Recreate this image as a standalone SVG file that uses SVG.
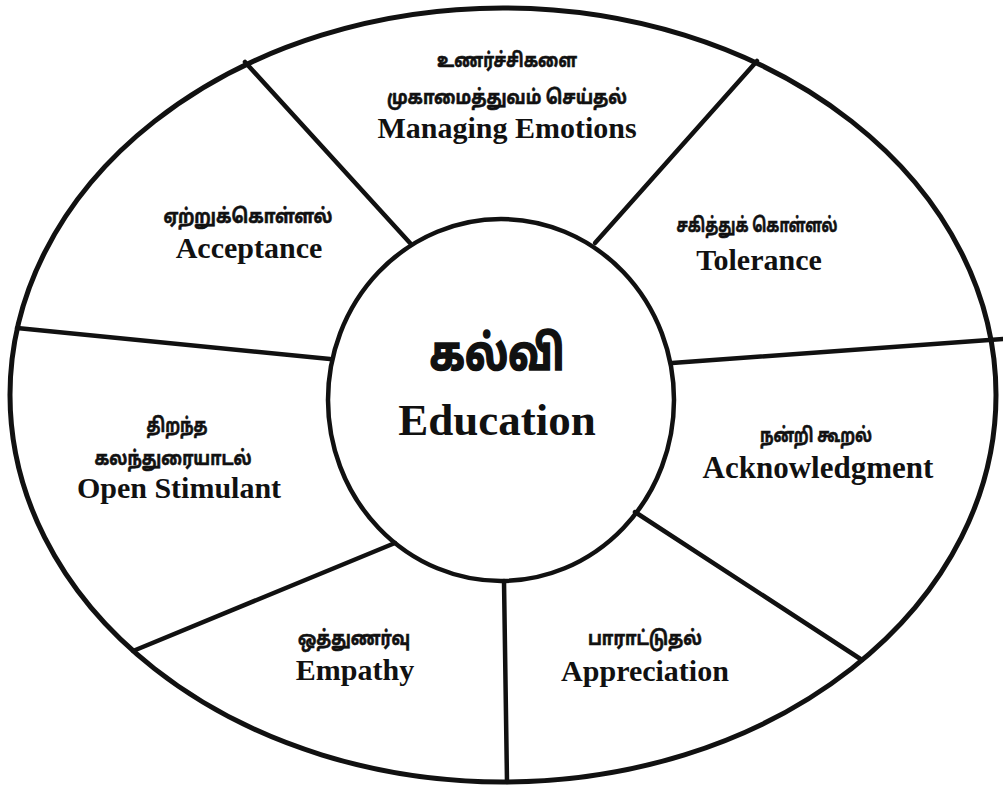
<svg xmlns="http://www.w3.org/2000/svg" width="1003" height="788" viewBox="0 0 1003 788">
<style>
.ln{stroke:#111;stroke-width:4.5;fill:none;stroke-linecap:round}
.ta{font-family:"Noto Sans Tamil","Lohit Tamil","Noto Serif Tamil","Latha",sans-serif;font-weight:bold;font-size:20px;fill:#111;stroke:#111;stroke-width:0.6;text-anchor:middle}
.en{font-family:"Liberation Serif","Times New Roman",serif;font-weight:bold;font-size:30px;fill:#111;text-anchor:middle}
</style>
<rect width="1003" height="788" fill="#fff"/>
<g id="connectors">
<line class="ln" x1="410" y1="243" x2="245" y2="62"/>
<line class="ln" x1="595" y1="243" x2="757" y2="61"/>
<line class="ln" x1="17" y1="328" x2="330" y2="359"/>
<line class="ln" x1="672" y1="363" x2="1003" y2="339"/>
<line class="ln" x1="635" y1="512" x2="862" y2="660"/>
<line class="ln" x1="504" y1="581" x2="507" y2="782"/>
<line class="ln" x1="395" y1="543" x2="133" y2="651"/>
</g>
<g id="outer">
<ellipse class="ln" cx="503" cy="395" rx="493" ry="387" style="stroke-width:5"/>
</g>
<g id="center">
<ellipse class="ln" cx="501" cy="400" rx="173" ry="181"/>
<text class="ta" x="497" y="370" style="font-size:48px;stroke-width:1.6" textLength="135" lengthAdjust="spacingAndGlyphs">கல்வி</text>
<text class="en" x="497" y="435" style="font-size:45px">Education</text>
</g>
<g id="managing-emotions">
<text class="ta" x="507" y="67" textLength="140" lengthAdjust="spacingAndGlyphs">உணர்ச்சிகளை</text>
<text class="ta" x="507" y="104" textLength="240" lengthAdjust="spacingAndGlyphs">முகாமைத்துவம் செய்தல்</text>
<text class="en" x="507" y="138">Managing Emotions</text>
</g>
<g id="acceptance">
<text class="ta" x="248" y="223" textLength="169" lengthAdjust="spacingAndGlyphs">ஏற்றுக்கொள்ளல்</text>
<text class="en" x="249" y="258">Acceptance</text>
</g>
<g id="tolerance">
<text class="ta" x="757" y="232" textLength="161" lengthAdjust="spacingAndGlyphs">சகித்துக் கொள்ளல்</text>
<text class="en" x="759" y="270">Tolerance</text>
</g>
<g id="open-stimulant">
<text class="ta" x="177" y="432" textLength="61" lengthAdjust="spacingAndGlyphs">திறந்த</text>
<text class="ta" x="173" y="465" textLength="157" lengthAdjust="spacingAndGlyphs">கலந்துரையாடல்</text>
<text class="en" x="179" y="498">Open Stimulant</text>
</g>
<g id="acknowledgment">
<text class="ta" x="816" y="442" textLength="112" lengthAdjust="spacingAndGlyphs">நன்றி கூறல்</text>
<text class="en" x="818" y="478" style="font-size:31px">Acknowledgment</text>
</g>
<g id="empathy">
<text class="ta" x="354" y="645" textLength="112" lengthAdjust="spacingAndGlyphs">ஒத்துணர்வு</text>
<text class="en" x="355" y="680">Empathy</text>
</g>
<g id="appreciation">
<text class="ta" x="645" y="645" textLength="114" lengthAdjust="spacingAndGlyphs">பாராட்டுதல்</text>
<text class="en" x="645" y="681">Appreciation</text>
</g>
</svg>
